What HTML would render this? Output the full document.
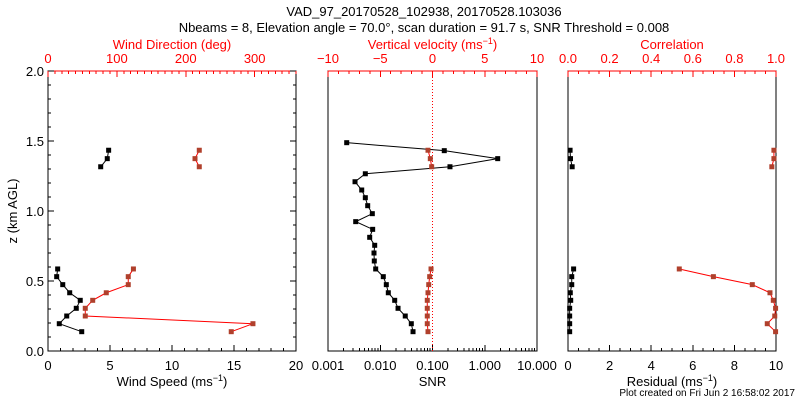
<!DOCTYPE html>
<html><head><meta charset="utf-8"><style>
body{margin:0;background:#fff;}
svg{display:block;font-family:"Liberation Sans",sans-serif;}
</style></head><body>
<svg id="c" width="800" height="400" viewBox="0 0 800 400">
<text x="424" y="16" font-size="13" text-anchor="middle">VAD_97_20170528_102938, 20170528.103036</text>
<text x="424" y="32" font-size="13" text-anchor="middle">Nbeams = 8, Elevation angle = 70.0°, scan duration = 91.7 s, SNR Threshold = 0.008</text>
<text x="795" y="396" font-size="10" text-anchor="end">Plot created on Fri Jun  2 16:58:02 2017</text>
</svg>
<script>
// shared heights (km)
const zLow=[0.586,0.531,0.474,0.416,0.362,0.305,0.25,0.195,0.138];
const zUp=[1.434,1.374,1.316];
const zSnr=[1.488,1.431,1.374,1.316,1.266,1.209,1.15,1.095,1.038,0.981,0.924,0.869,0.812,0.755,0.7,0.643,0.586,0.531,0.474,0.416,0.362,0.305,0.25,0.195,0.138];
// panel 1
const speedLow=[0.78,0.70,1.19,1.75,2.6,2.28,1.51,0.91,2.72];
const speedUp=[4.89,4.78,4.25];
const dirLow=[124,116.5,116.5,84.6,64.9,54.1,54.1,297.5,266];
const dirUp=[219.6,213.4,219.6];
// panel 2
const snrVals=[0.00228,0.168,1.77,0.216,0.00518,0.00329,0.00442,0.00518,0.00575,0.00705,0.00339,0.00716,0.00628,0.00783,0.00759,0.00769,0.00818,0.01143,0.01306,0.01426,0.0189,0.0219,0.0301,0.0393,0.0424];
const wUp=[-0.43,-0.21,-0.08];
const wLow=[-0.14,-0.27,-0.36,-0.43,-0.5,-0.5,-0.5,-0.5,-0.43];
// panel 3
const residLow=[0.27,0.18,0.18,0.11,0.13,0.08,0.08,0.08,0.08];
const residUp=[0.1,0.12,0.2];
const corrLow=[0.535,0.699,0.886,0.971,0.987,0.998,0.994,0.958,0.998];
const corrUp=[0.99,0.99,0.98];
const yTicks=['0.0','0.5','1.0','1.5','2.0'];

const svg=document.getElementById('c');
const NS='http://www.w3.org/2000/svg';
const TOP=71,BOT=351;
const Y=z=>BOT-z/2*(BOT-TOP);
function mk(tag,at,txt){const e=document.createElementNS(NS,tag);for(const k in at)e.setAttribute(k,at[k]);if(txt!==undefined)e.textContent=txt;svg.appendChild(e);return e;}
function line(x1,y1,x2,y2,c,w){return mk('line',{x1,y1,x2,y2,stroke:c,'stroke-width':w||1,'shape-rendering':'crispEdges'});}
function txt(x,y,s,c,a,sz){return mk('text',{x,y,fill:c,'font-size':sz||13,'text-anchor':a||'middle'},s);}

function panel(L,R,name){
  const r=mk('rect',{x:L,y:TOP,width:R-L,height:BOT-TOP,fill:'none',stroke:'#000','shape-rendering':'crispEdges'});
  
  
  const t=line(L,TOP,R,TOP,'#f00');
  
  
}
function topAxis(fx,lo,hi,maj,min,fmt,title,name){
  for(let v=lo;v<=hi+1e-9;v+=min){const x=fx(v);const isM=Math.abs(v/maj-Math.round(v/maj))<1e-6;line(x,TOP,x,TOP+(isM?6:3),'#f00');}
  for(let v=lo;v<=hi+1e-9;v+=maj){const t=txt(fx(v),63,fmt(v),'#f00');}
  const tt=txt((fx(lo)+fx(hi))/2,49,'','#f00');tt.innerHTML=title;
  
  
}
function botAxis(fx,lo,hi,maj,min,fmt,title,name){
  for(let v=lo;v<=hi+1e-9;v+=min){const x=fx(v);const isM=Math.abs(v/maj-Math.round(v/maj))<1e-6;line(x,BOT,x,BOT-(isM?6:3),'#000');}
  for(let v=lo;v<=hi+1e-9;v+=maj){const t=txt(fx(v),370,fmt(v),'#000');}
  const tt=txt((fx(lo)+fx(hi))/2,386,'','#000');tt.innerHTML=title;
  
  
}
function series(xs,zs,fx,lc,mc,name){
  const pts=xs.map((v,i)=>[fx(v),Y(zs[i])]);
  const p=mk('polyline',{points:pts.map(p=>p.join(',')).join(' '),fill:'none',stroke:lc,'stroke-width':1});
  
  
  pts.forEach(q=>{const m=mk('rect',{x:q[0]-2.5,y:q[1]-2.5,width:5,height:5,fill:mc});
    
    });
}
const RED='#f00',MRED='#b0402c';

// Panel 1
const L1=48,R1=296;
panel(L1,R1,'wind-panel');
const fSpd=v=>L1+v/20*(R1-L1), fDir=v=>L1+v/360*(R1-L1);
for(let z=0;z<=2.0001;z+=0.1){const y=Y(z);const m=Math.abs(z*2-Math.round(z*2))<1e-6;line(L1,y,L1+(m?6:3),y,'#000');line(R1,y,R1-(m?6:3),y,'#000');}
yTicks.forEach((s,i)=>{const t=txt(44,Y(i*0.5)+5,s,'#000','end');});
const yt=txt(0,0,'z (km AGL)','#000');yt.setAttribute('transform','translate(17,211) rotate(-90)');


topAxis(fDir,0,360,100,10,v=>v>300?'':String(v),'Wind Direction (deg)','wind-direction');
botAxis(fSpd,0,20,5,1,v=>String(v),'Wind Speed (ms<tspan dy="-5" font-size="9">−1</tspan><tspan dy="5">)</tspan>','wind-speed');
series(speedLow,zLow,fSpd,'#000','#000','wind-speed-low');
series(speedUp,zUp,fSpd,'#000','#000','wind-speed-upper');
series(dirLow,zLow,fDir,RED,MRED,'wind-direction-low');
series(dirUp,zUp,fDir,RED,MRED,'wind-direction-upper');

// Panel 2
const L2=328,R2=537;
panel(L2,R2,'snr-panel');
const fSnr=v=>L2+(Math.log10(v)+3)/4*(R2-L2), fW=v=>L2+(v+10)/20*(R2-L2);
topAxis(fW,-10,10,5,1,v=>v<0?'−'+(-v):String(v),'Vertical velocity (ms<tspan dy="-5" font-size="9">−1</tspan><tspan dy="5">)</tspan>','vertical-velocity');
for(let d=-3;d<1;d++)for(let k=1;k<10;k++){const x=fSnr(k*Math.pow(10,d));line(x,BOT,x,BOT-(k==1?6:3),'#000');}
['0.001','0.010','0.100','1.000','10.000'].forEach((s,i)=>{const t=txt(L2+i*(R2-L2)/4,370,s,'#000');});
const st=txt((L2+R2)/2,386,'SNR','#000');
const dl=line(fSnr(0.1),TOP,fSnr(0.1),BOT,RED);dl.setAttribute('stroke-dasharray','1,2');


series(snrVals,zSnr,fSnr,'#000','#000','snr');
series(wUp,zUp,fW,RED,MRED,'vertical-velocity-upper');
series(wLow,zLow,fW,RED,MRED,'vertical-velocity-low');

// Panel 3
const L3=568,R3=776;
panel(L3,R3,'residual-panel');
const fRes=v=>L3+v/10*(R3-L3), fCor=v=>L3+v*(R3-L3);
topAxis(fCor,0,1,0.2,0.05,v=>v.toFixed(1),'Correlation','correlation');
botAxis(fRes,0,10,2,0.5,v=>String(Math.round(v)),'Residual (ms<tspan dy="-5" font-size="9">−1</tspan><tspan dy="5">)</tspan>','residual');
series(residLow,zLow,fRes,'#000','#000','residual-low');
series(residUp,zUp,fRes,'#000','#000','residual-upper');
series(corrLow,zLow,fCor,RED,MRED,'correlation-low');
series(corrUp,zUp,fCor,RED,MRED,'correlation-upper');
</script>
</body></html>
